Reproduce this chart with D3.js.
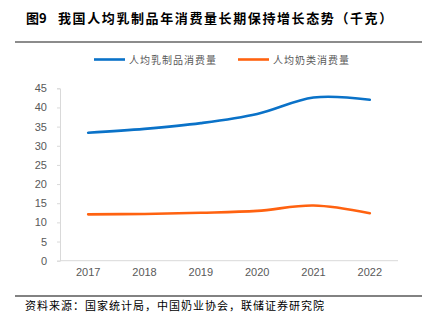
<!DOCTYPE html>
<html><head><meta charset="utf-8">
<script src="https://cdn.jsdelivr.net/npm/d3@7"></script>
<style>
html,body{margin:0;padding:0;background:#fff;}
svg{display:block;font-family:"Noto Sans CJK SC",sans-serif;}
</style></head>
<body><svg id="c" width="430" height="329"></svg>
<script>
const years = ["2017","2018","2019","2020","2021","2022"];
const dairyProducts = [33.4, 34.4, 35.9, 38.3, 42.6, 42.0];
const milk = [12.1, 12.2, 12.5, 13.0, 14.4, 12.4];
const yTicks = [0,5,10,15,20,25,30,35,40,45];
const seriesNames = ["人均乳制品消费量","人均奶类消费量"];
const figNo = "图9";
const title = "我国人均乳制品年消费量长期保持增长态势（千克）";
const source = "资料来源：国家统计局，中国奶业协会，联储证券研究院";

(function(){
const svg = d3.select("#c");
const mL = 60, mR = 398, mT = 88.3, mB = 260.7;
const x = d3.scaleBand().domain(years).range([mL, mR]);
const y = d3.scaleLinear().domain([0,45]).range([mB, mT]);

// title
svg.append("text").attr("x",26).attr("y",23).attr("font-size",13).attr("font-weight","bold")
  .attr("fill","#000").text(figNo);
svg.append("text").attr("x",58).attr("y",23).attr("font-size",13).attr("font-weight","bold")
  .attr("letter-spacing","1.6px").attr("fill","#000").text(title);
svg.append("line").attr("x1",15).attr("x2",422).attr("y1",42).attr("y2",42)
  .attr("stroke","#8c8c8c").attr("stroke-width",2);

// axes
const yAxis = d3.axisLeft(y).tickValues(yTicks).tickSize(3).tickPadding(10);
const gy = svg.append("g").attr("transform",`translate(${mL},0)`).call(yAxis);
gy.selectAll("path,line").attr("stroke","#d9d9d9");
gy.selectAll("text").attr("fill","#595959").attr("font-size",11).attr("font-family","'Liberation Sans',Arial,sans-serif");

const xAxis = d3.axisBottom(x).tickSize(0).tickPadding(8);
const gx = svg.append("g").attr("transform",`translate(0,${mB})`).call(xAxis);
gx.select("path").attr("stroke","#d9d9d9").attr("d",`M${mL},0H${mR}`);
gx.selectAll("text").attr("fill","#595959").attr("font-size",11).attr("font-family","'Liberation Sans',Arial,sans-serif");

// lines
const line = d3.line().x((d,i)=>x(years[i])+x.bandwidth()/2).y(d=>y(d)).curve(d3.curveCardinal.tension(0));
const colors = ["#0a72c8","#ff6210"];
[dairyProducts, milk].forEach((s,i)=>{
  svg.append("path").attr("d",line(s)).attr("fill","none").attr("stroke",colors[i])
    .attr("stroke-width",2.6).attr("stroke-linecap","round");
});

// legend
const legX = [94, 238];
seriesNames.forEach((n,i)=>{
  svg.append("line").attr("x1",legX[i]).attr("x2",legX[i]+31).attr("y1",59.5).attr("y2",59.5)
    .attr("stroke",colors[i]).attr("stroke-width",2.6);
  svg.append("text").attr("x",legX[i]+35).attr("y",63.5).attr("font-size",10)
    .attr("letter-spacing","1px").attr("fill","#595959").text(n);
});

// source
svg.append("line").attr("x1",15).attr("x2",422).attr("y1",296).attr("y2",296)
  .attr("stroke","#595959").attr("stroke-width",1.3);
svg.append("text").attr("x",25).attr("y",310).attr("font-size",11)
  .attr("letter-spacing","1px").attr("fill","#000").text(source);
})();
</script></body></html>
